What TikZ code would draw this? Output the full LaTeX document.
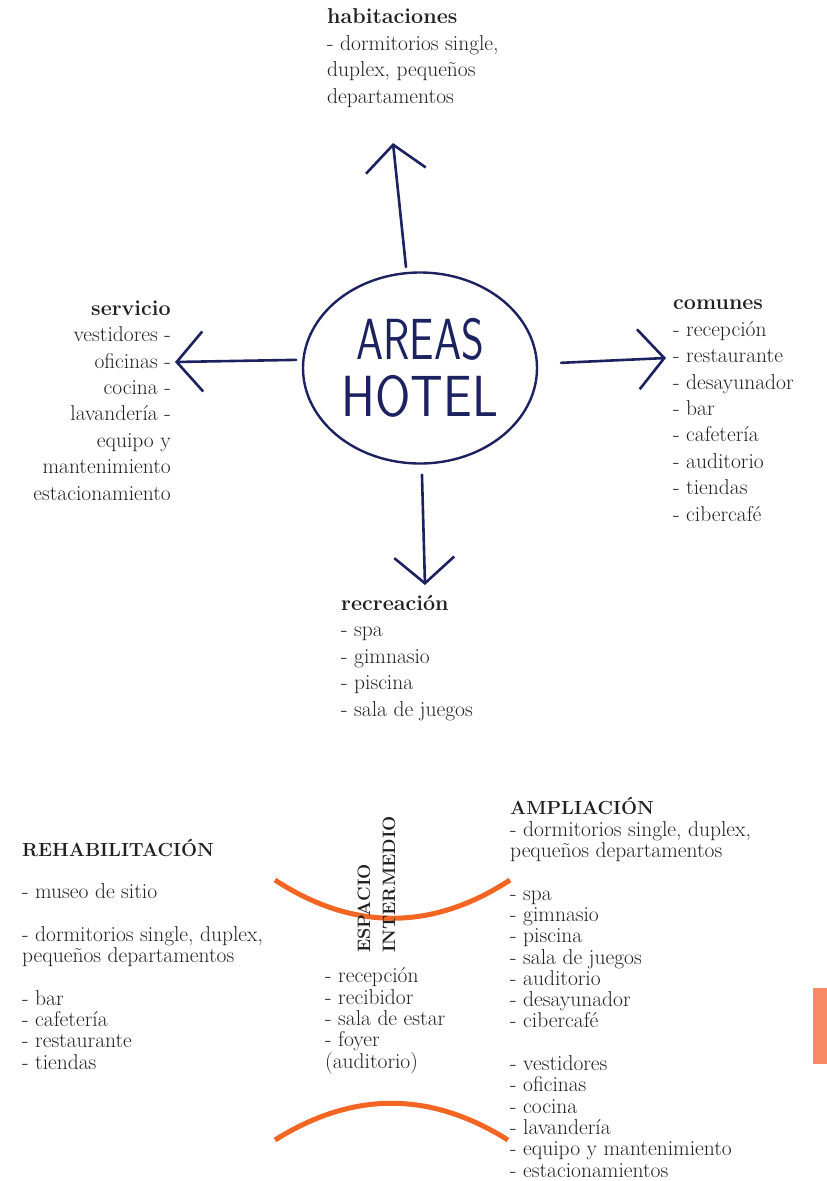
\documentclass[tikz,border=0pt]{standalone}
\usepackage{graphicx}
\usepackage{tikz}
\usetikzlibrary{arrows.meta,shapes.geometric}
\definecolor{ink}{HTML}{1C2160}
\definecolor{txt}{HTML}{231F20}
\definecolor{orng}{HTML}{F26522}
\definecolor{salmon}{HTML}{F88A63}
\tikzset{
  >={Straight Barb[length=26pt,width=60pt]},
  hand/.style={->,draw=ink,line width=2.6pt,line cap=round,line join=round},
  lbl/.style={anchor=base west,align=left,inner sep=0pt,text=txt,font=\fontsize{21.5}{26.4}\selectfont},
  lblr/.style={lbl,anchor=base east,align=right},
  lst/.style={lbl,font=\fontsize{21.5}{21.3}\selectfont},
  arc/.style={draw=orng,line width=5pt},
}
\newcommand{\capsb}{\bfseries\fontsize{19}{21.3}\selectfont}

\begin{document}
\begin{tikzpicture}[x=1pt,y=-1pt]
\useasboundingbox (0,0) rectangle (827,1181);

% upper diagram (text nodes sit on the baseline of their last line)
\node[ellipse,draw=ink,line width=2.4pt,minimum width=234pt,minimum height=191pt,
  inner sep=-4pt,text=ink,align=center,font=\sffamily\fontsize{58}{57}\selectfont]
  (areas) at (420,368) {\scalebox{0.75}[1]{AREAS}\\\scalebox{0.88}[1]{HOTEL}};

\coordinate (upT) at (393,143);
\coordinate (lfT) at (175,362);
\coordinate (rtT) at (666,358);
\coordinate (dnT) at (425,585);

\draw[hand,shorten <=5pt] (areas.98) -- (upT);
\draw[hand,shorten <=6pt] (areas.176) -- (lfT);
\draw[hand,shorten <=23pt] (areas.2) -- (rtT);
\draw[hand,shorten <=10pt] (areas.271) -- (dnT);

\node[lbl] (hab) at (327,103) {\textbf{habitaciones}\\- dormitorios single,\\duplex, pequeños\\departamentos};
\node[lblr] (serv) at (171,500) {\textbf{servicio}\\vestidores -\\oficinas -\\cocina -\\lavandería -\\equipo y\\mantenimiento\\estacionamiento};
\node[lbl] (com) at (673,521) {\textbf{comunes}\\- recepción\\- restaurante\\- desayunador\\- bar\\- cafetería\\- auditorio\\- tiendas\\- cibercafé};
\node[lbl] (recr) at (341,716) {\textbf{recreación}\\- spa\\- gimnasio\\- piscina\\- sala de juegos};

% lower diagram
\draw[arc] (275,880) .. controls (353,931) and (432,931) .. (510,880);
\draw[arc] (275,1140) .. controls (353,1091) and (430,1091) .. (508,1140);
\fill[salmon] (813,988) rectangle (827,1064);

\node[lst] (rehab) at (22,1069) {{\capsb REHABILITACIÓN}\\[21.3pt]- museo de sitio\\[21.3pt]- dormitorios single, duplex,\\pequeños departamentos\\[21.3pt]- bar\\- cafetería\\- restaurante\\- tiendas};
\node[lbl,rotate=90,font=\bfseries\fontsize{18}{25}\selectfont] (esp) at (395,953) {ESPACIO\\INTERMEDIO};
\node[lst] (esplist) at (325,1068) {- recepción\\- recibidor\\- sala de estar\\- foyer\\(auditorio)};
\node[lst] (amp) at (510,1177) {{\capsb AMPLIACIÓN}\\- dormitorios single, duplex,\\pequeños departamentos\\[21.3pt]- spa\\- gimnasio\\- piscina\\- sala de juegos\\- auditorio\\- desayunador\\- cibercafé\\[21.3pt]- vestidores\\- oficinas\\- cocina\\- lavandería\\- equipo y mantenimiento\\- estacionamientos};
\end{tikzpicture}
\end{document}
